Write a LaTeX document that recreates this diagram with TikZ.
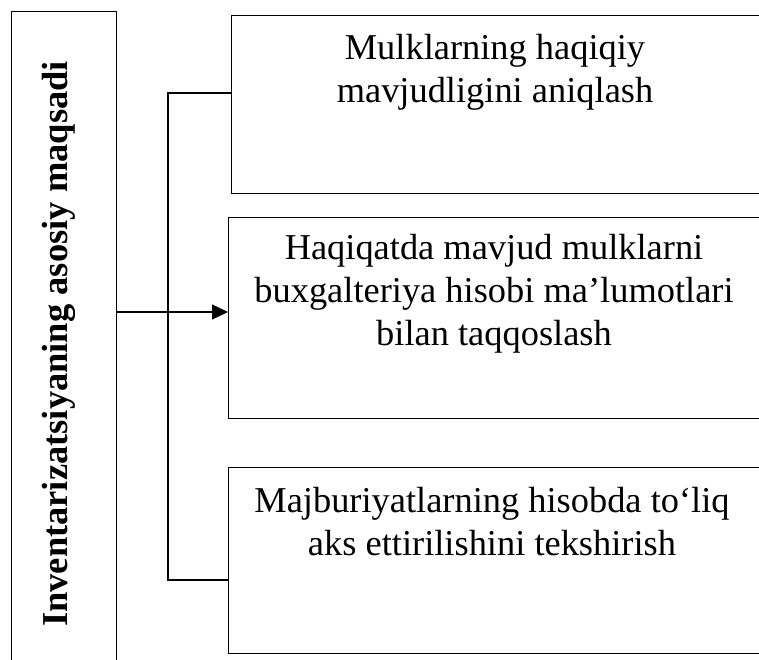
\documentclass[tikz,border=0pt]{standalone}
\usepackage{fontspec}
\setmainfont{Liberation Serif}
\usetikzlibrary{arrows.meta}
\begin{document}
\begin{tikzpicture}[x=1pt,y=-1pt,
  frame/.style={draw, line width=1.3pt, rectangle, inner sep=0pt, anchor=north west},
  label/.style={inner sep=0pt, align=center, font=\fontsize{36.4}{43}\selectfont},
  link/.style={line width=1.3pt}]
\useasboundingbox (0,0) rectangle (759,659);
\clip (0,0) rectangle (759,659);
% heading box on the left
\node[frame, minimum width=105pt, minimum height=654pt] (main) at (11,11) {};
\node[rotate=90, inner sep=0pt, font=\fontsize{36.5}{44}\selectfont\bfseries, anchor=base]
  (title) at (67,344) {Inventarizatsiyaning asosiy maqsadi};
% goal boxes
\node[frame, minimum width=531pt, minimum height=178pt] (b1) at (231,15) {};
\node[frame, minimum width=534pt, minimum height=201pt] (b2) at (228,217) {};
\node[frame, minimum width=534pt, minimum height=186pt] (b3) at (228,467) {};
% the base anchor sits on the last line of each text
\node[label, anchor=base] (t1) at (495,102) {Mulklarning haqiqiy\\mavjudligini aniqlash};
\node[label, anchor=base] (t2) at (494,345) {Haqiqatda mavjud mulklarni\\buxgalteriya hisobi ma’lumotlari\\bilan taqqoslash};
\node[label, anchor=base] (t3) at (492,555) {Majburiyatlarning hisobda to‘liq\\aks ettirilishini tekshirish};
% bracket joining the first and last box
\coordinate (jt) at (168,93);
\coordinate (jb) at (168,580);
\coordinate (ar) at (116,312);
\draw[link] (b1.west |- jt) -- (jt) -- (jb) -- (b3.west |- jb);
\draw[link, -{Triangle[length=16pt, width=15pt]}] (main.east |- ar) -- (b2.west |- ar);
\end{tikzpicture}
\end{document}
